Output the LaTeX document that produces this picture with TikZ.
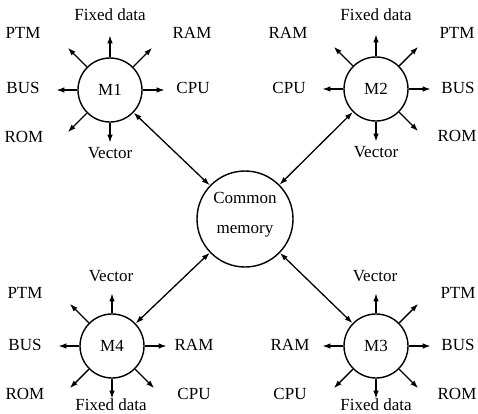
\documentclass[tikz,border=0pt]{standalone}
\usepackage{fontspec}
\setmainfont{Liberation Serif}
\usetikzlibrary{arrows.meta}

% unit circle with a name, a centre and a caption
\newcommand\unitnode[4]{\node[unit] (#1) at (#2,#3) {#4};}
% short outward arrow from a unit: node, angle, length, end name
\newcommand\ustub[4]{%
  \path (#1.#2) ++(#2:#3pt) coordinate (#4);
  \draw[stub] (#1.#2) -- (#4);}

\begin{document}
\begin{tikzpicture}[x=1pt,y=-1pt,
  font=\fontsize{17}{18}\selectfont,
  unit/.style={circle,draw,line width=1.4pt,minimum size=64pt,inner sep=0pt},
  hub/.style={circle,draw,line width=1.4pt,minimum size=96pt,inner sep=0pt},
  stub/.style={-{Latex[length=8pt,width=5.5pt]},line width=1.4pt},
  link/.style={{Latex[length=8pt,width=5.5pt]}-{Latex[length=8pt,width=5.5pt]},line width=1.3pt},
  lbl/.style={inner sep=0pt}]
\useasboundingbox (0,0) rectangle (478,413);

% central shared store
\node[hub] (cm) at (245,219) {};
\node[lbl] (cm-a) at (245,198) {Common};
\node[lbl] (cm-b) at (245,231) {memory};

% the four processing units
\unitnode{m1}{110}{90}{M1}
\unitnode{m2}{376}{89}{M2}
\unitnode{m4}{112}{346}{M4}
\unitnode{m3}{376}{346}{M3}

% links to the common memory
\draw[link] (m1) -- (cm);
\draw[link] (m2) -- (cm);
\draw[link] (m4) -- (cm);
\draw[link] (m3) -- (cm);

% ---- M1 ----
\ustub{m1}{90}{22}{m1n}
\ustub{m1}{135}{27}{m1nw}
\ustub{m1}{45}{27}{m1ne}
\ustub{m1}{180}{21}{m1w}
\ustub{m1}{0}{22}{m1e}
\ustub{m1}{225}{27}{m1sw}
\ustub{m1}{270}{20}{m1s}
\node[lbl] (m1-fd)  at (110,15)  {Fixed data};
\node[lbl] (m1-ptm) at (23,33)   {PTM};
\node[lbl] (m1-ram) at (192,33)  {RAM};
\node[lbl] (m1-bus) at (23,88)   {BUS};
\node[lbl] (m1-cpu) at (193,88)  {CPU};
\node[lbl] (m1-rom) at (24,137)  {ROM};
\node[lbl] (m1-vec) at (110,153) {Vector};

% ---- M2 ----
\ustub{m2}{90}{22}{m2n}
\ustub{m2}{135}{27}{m2nw}
\ustub{m2}{45}{27}{m2ne}
\ustub{m2}{180}{21}{m2w}
\ustub{m2}{0}{22}{m2e}
\ustub{m2}{315}{27}{m2se}
\ustub{m2}{270}{20}{m2s}
\node[lbl] (m2-fd)  at (376,15)  {Fixed data};
\node[lbl] (m2-ram) at (288,33)  {RAM};
\node[lbl] (m2-ptm) at (457,33)  {PTM};
\node[lbl] (m2-cpu) at (289,88)  {CPU};
\node[lbl] (m2-bus) at (458,88)  {BUS};
\node[lbl] (m2-rom) at (457,136) {ROM};
\node[lbl] (m2-vec) at (376,152) {Vector};

% ---- M4 ----
\ustub{m4}{90}{20}{m4n}
\ustub{m4}{135}{27}{m4nw}
\ustub{m4}{180}{21}{m4w}
\ustub{m4}{0}{22}{m4e}
\ustub{m4}{225}{27}{m4sw}
\ustub{m4}{315}{27}{m4se}
\ustub{m4}{270}{20}{m4s}
\node[lbl] (m4-vec) at (111,276) {Vector};
\node[lbl] (m4-ptm) at (25,293)  {PTM};
\node[lbl] (m4-bus) at (25,345)  {BUS};
\node[lbl] (m4-ram) at (194,345) {RAM};
\node[lbl] (m4-rom) at (25,394)  {ROM};
\node[lbl] (m4-cpu) at (194,394) {CPU};
\node[lbl] (m4-fd)  at (111,405) {Fixed data};

% ---- M3 ----
\ustub{m3}{90}{20}{m3n}
\ustub{m3}{45}{27}{m3ne}
\ustub{m3}{180}{21}{m3w}
\ustub{m3}{0}{22}{m3e}
\ustub{m3}{225}{27}{m3sw}
\ustub{m3}{315}{27}{m3se}
\ustub{m3}{270}{20}{m3s}
\node[lbl] (m3-vec) at (375,276) {Vector};
\node[lbl] (m3-ptm) at (458,293) {PTM};
\node[lbl] (m3-ram) at (290,345) {RAM};
\node[lbl] (m3-bus) at (458,345) {BUS};
\node[lbl] (m3-cpu) at (290,394) {CPU};
\node[lbl] (m3-rom) at (457,394) {ROM};
\node[lbl] (m3-fd)  at (376,405) {Fixed data};
\end{tikzpicture}
\end{document}
